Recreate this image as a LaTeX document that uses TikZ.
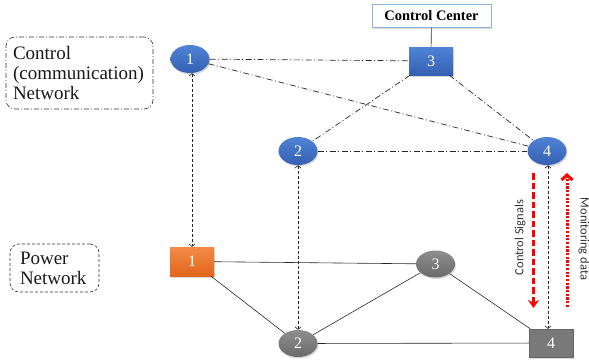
\documentclass[tikz,border=0pt]{standalone}
\usepackage{fontspec}
\setmainfont{Liberation Serif}
\newfontfamily\calfont{Carlito}
\usetikzlibrary{arrows.meta,shapes.geometric,shadows}

\definecolor{bluetop}{HTML}{5083D6}
\definecolor{bluebot}{HTML}{3460B3}
\definecolor{oratop}{HTML}{F28B48}
\definecolor{orabot}{HTML}{E2661A}
\definecolor{graytop}{HTML}{8E8E8E}
\definecolor{graybot}{HTML}{6A6A6A}
\definecolor{ccframe}{HTML}{8DB3E2}

\begin{document}
\begin{tikzpicture}[x=1pt,y=-1pt,>=Stealth,
  shade/.style={drop shadow={opacity=0.3,shadow xshift=1pt,shadow yshift=-1.5pt}},
  commnode/.style={ellipse,minimum width=39pt,minimum height=28pt,inner sep=0pt,
    top color=bluetop,bottom color=bluebot,text=white,font=\fontsize{16}{16}\selectfont,shade},
  commbox/.style={rectangle,minimum width=44pt,minimum height=28pt,inner sep=0pt,
    top color=bluetop,bottom color=bluebot,text=white,font=\fontsize{16}{16}\selectfont,shade},
  busnode/.style={ellipse,minimum width=39pt,minimum height=27pt,inner sep=0pt,
    top color=graytop,bottom color=graybot,text=white,font=\fontsize{16}{16}\selectfont,shade},
  genbox/.style={rectangle,minimum width=44pt,minimum height=29pt,inner sep=0pt,
    top color=oratop,bottom color=orabot,text=white,font=\fontsize{16}{16}\selectfont,shade},
  loadbox/.style={rectangle,minimum width=44pt,minimum height=28pt,inner sep=0pt,
    fill=graybot!90!white,draw=black!60,text=white,font=\fontsize{16}{16}\selectfont,shade},
  commlink/.style={black!85,line width=0.7pt,dash pattern=on 6pt off 2.5pt on 1pt off 2.5pt},
  powerlink/.style={black!85,line width=0.6pt},
  tie/.style={black!85,line width=0.6pt,dash pattern=on 3pt off 2pt,
    {Straight Barb[length=2.5pt,width=6pt]}-{Straight Barb[length=2.5pt,width=6pt]}},
  legend/.style={rounded corners=9pt,align=left,inner ysep=0pt,
    font=\fontsize{19}{20}\selectfont,black!90}]

  \useasboundingbox (0,0) rectangle (589,364);

  % legend boxes
  \node[legend,draw=black!80,line width=0.6pt,dash pattern=on 5pt off 2pt on 1pt off 2pt,
    text width=133pt,inner xsep=7pt,minimum height=72pt] (ctrltag) at (79.5,73)
    {Control\\(communication)\\Network};
  \node[legend,draw=black!80,line width=0.6pt,dash pattern=on 3pt off 2pt,
    text width=69pt,inner xsep=10pt,minimum height=48pt] (powtag) at (54.5,268)
    {Power\\Network};

  % control network
  \node[draw=ccframe,line width=0.8pt,fill=white,minimum width=119pt,minimum height=23pt,
    font=\bfseries\fontsize{14.5}{15}\selectfont,shade] (cc) at (431.5,15.5) {Control Center};
  \node[commnode] (c1) at (190,59) {1};
  \node[commnode] (c2) at (298,151) {2};
  \node[commbox] (c3) at (431,61) {3};
  \node[commnode] (c4) at (547,151) {4};

  % power network
  \node[genbox] (p1) at (192,261.5) {1};
  \node[busnode] (p2) at (298,343.5) {2};
  \node[busnode] (p3) at (435.5,264) {3};
  \node[loadbox] (p4) at (551,343) {4};

  \draw[black!80,line width=0.6pt] (cc) -- (c3);
  \draw[commlink] (c1) -- (c3);
  \draw[commlink] (c1) -- (c4);
  \draw[commlink] (c3) -- (c2);
  \draw[commlink] (c3) -- (c4);
  \draw[commlink] (c2) -- (c4);

  \draw[powerlink] (p1) -- (p3);
  \draw[powerlink] (p1) -- (p2);
  \draw[powerlink] (p2) -- (p3);
  \draw[powerlink] (p3) -- (p4);
  \draw[powerlink] (p2) -- (p4);

  % coupling between layers
  \draw[tie] ([xshift=2pt]c1.south) -- ([xshift=2pt]c1.south |- p1.north);
  \draw[tie] (c2.south) -- (c2.south |- p2.north);
  \draw[tie] ([xshift=1pt]c4.south) -- ([xshift=1pt]c4.south |- p4.north);

  % signal flow
  \coordinate (sigtop) at (533.5,173);
  \coordinate (sigbot) at (533.5,308);
  \coordinate (montop) at (567,173);
  \coordinate (monbot) at (567,307);
  \draw[red,line width=3pt,dash pattern=on 6.5pt off 3pt,-{Stealth[length=8pt,width=11pt]}] (sigtop) -- (sigbot);
  \draw[red,line width=3pt,dash pattern=on 2.2pt off 1.5pt,-{Straight Barb[length=5pt,width=11pt]}] (monbot) -- (montop);
  \node[rotate=90,font=\calfont\fontsize{12.5}{13}\selectfont,black!80] (siglabel) at (520,237.5) {Control Signals};
  \node[rotate=-90,font=\calfont\fontsize{12.5}{13}\selectfont,black!80] (monlabel) at (584,239) {Monitoring data};
\end{tikzpicture}
\end{document}
